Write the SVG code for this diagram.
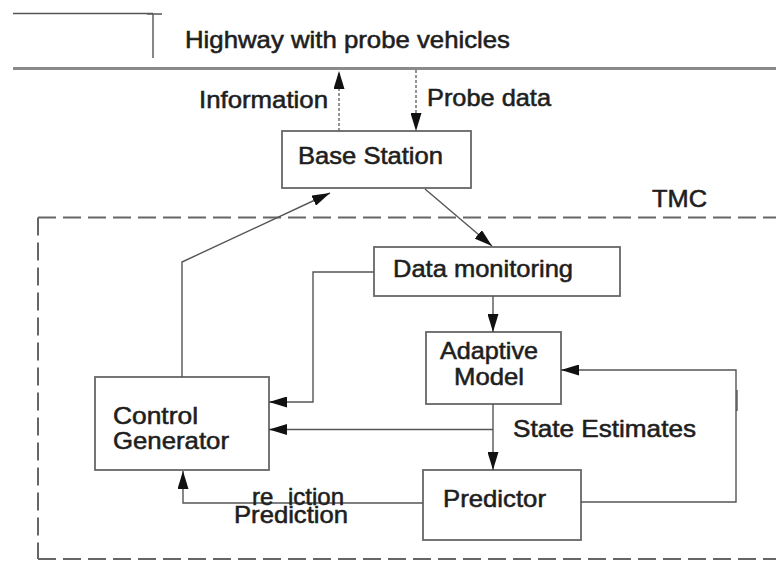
<svg xmlns="http://www.w3.org/2000/svg" width="776" height="563" viewBox="0 0 776 563">
<defs>
<style>
text{font-family:"Liberation Sans",Arial,sans-serif;font-size:24px;fill:#1e1e1e;stroke:#1e1e1e;stroke-width:0.55px}
.box{fill:#fff;stroke:#666;stroke-width:1.8}
.ln{fill:none;stroke:#555;stroke-width:1.4}
.dot{fill:none;stroke:#666;stroke-width:1.4;stroke-dasharray:3 2}
.tmc{fill:none;stroke:#666;stroke-width:2;stroke-dasharray:18 7}
.road{fill:none;stroke:#8a8a8a;stroke-width:3}
</style>
<marker id="ah" markerUnits="userSpaceOnUse" markerWidth="18" markerHeight="11" refX="18" refY="5.5" orient="auto">
<path d="M0,0 L18,5.5 L0,11 z" fill="#111"/>
</marker>
</defs>
<rect width="776" height="563" fill="#fff"/>

<g id="highway">
<path class="ln" d="M13,13.5 H153 M147,14 H162 M153,14 V58"/>
<line class="road" x1="13" y1="68.5" x2="776" y2="68.5"/>
<text x="185" y="48" font-size="23" textLength="325" lengthAdjust="spacingAndGlyphs">Highway with probe vehicles</text>
</g>

<g id="tmc-boundary">
<path class="tmc" d="M38,217.5 H776 M38,217.5 V559 M38,559 H776"/>
<text x="652" y="207" textLength="55" lengthAdjust="spacingAndGlyphs">TMC</text>
</g>

<g id="base-station">
<rect class="box" x="282" y="131" width="189" height="57"/>
<text x="298" y="164" textLength="145" lengthAdjust="spacingAndGlyphs">Base Station</text>
</g>

<g id="data-monitoring">
<rect class="box" x="374" y="247" width="246" height="49"/>
<text x="393" y="277" textLength="180" lengthAdjust="spacingAndGlyphs">Data monitoring</text>
</g>

<g id="adaptive-model">
<rect class="box" x="426" y="332" width="135" height="72"/>
<text x="440" y="359" textLength="98" lengthAdjust="spacingAndGlyphs">Adaptive</text>
<text x="454" y="385" textLength="70" lengthAdjust="spacingAndGlyphs">Model</text>
</g>

<g id="control-generator">
<rect class="box" x="95" y="377" width="174" height="93"/>
<text x="113" y="424" textLength="85" lengthAdjust="spacingAndGlyphs">Control</text>
<text x="113" y="449" textLength="116" lengthAdjust="spacingAndGlyphs">Generator</text>
</g>

<g id="predictor">
<rect class="box" x="423" y="470" width="158" height="70"/>
<text x="443" y="507" textLength="103" lengthAdjust="spacingAndGlyphs">Predictor</text>
</g>

<g id="connectors">
<line class="dot" x1="339" y1="131" x2="339" y2="71" marker-end="url(#ah)"/>
<line class="dot" x1="416" y1="70" x2="416" y2="131" marker-end="url(#ah)"/>
<line class="ln" x1="425" y1="189" x2="492" y2="246" marker-end="url(#ah)"/>
<polyline class="ln" points="182,377 182,262 330,193" marker-end="url(#ah)"/>
<polyline class="ln" points="374,272 313,272 313,402 269,402" marker-end="url(#ah)"/>
<line class="ln" x1="493" y1="296" x2="493" y2="332" marker-end="url(#ah)"/>
<line class="ln" x1="493" y1="404" x2="493" y2="470" marker-end="url(#ah)"/>
<line class="ln" x1="493" y1="429.5" x2="269" y2="429.5" stroke-width="2.4" marker-end="url(#ah)"/>
<polyline class="ln" points="423,503 183,503 183,471" marker-end="url(#ah)"/>
<polyline class="ln" points="581,502 736,502 736,370 561,370" marker-end="url(#ah)"/>
<line class="ln" x1="737" y1="390" x2="737" y2="411" stroke-width="3"/>
<text x="513" y="437" font-size="25" textLength="183" lengthAdjust="spacingAndGlyphs">State Estimates</text>
<text x="199" y="108" textLength="129" lengthAdjust="spacingAndGlyphs">Information</text>
<text x="427" y="106" textLength="124" lengthAdjust="spacingAndGlyphs">Probe data</text>
<text x="252" y="505">re <tspan x="288">iction</tspan></text>
<text x="234" y="523" textLength="114" lengthAdjust="spacingAndGlyphs">Prediction</text>
</g>
</svg>
